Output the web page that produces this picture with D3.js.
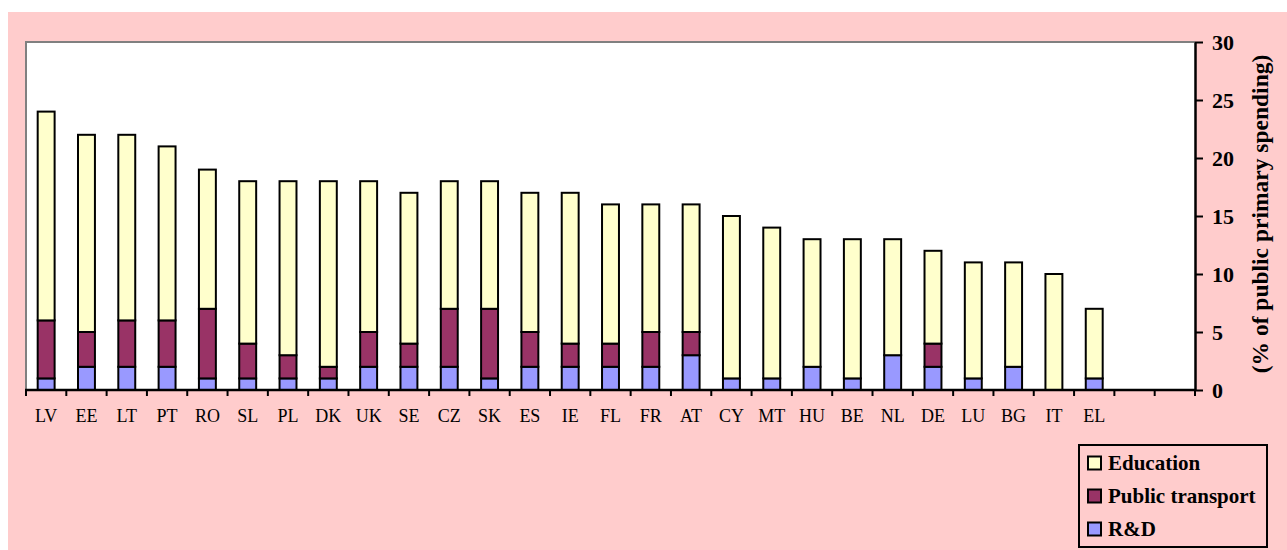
<!DOCTYPE html>
<html>
<head>
<meta charset="utf-8">
<script src="https://cdn.jsdelivr.net/npm/d3@7/dist/d3.min.js"></script>
<style>
  html, body { margin: 0; padding: 0; background: #ffffff; }
  svg { display: block; }
</style>
</head>
<body>
<svg id="chart" width="1287" height="550"></svg>
<script>
// Country codes, in chart order (two empty slots follow on the right)
const countries = ["LV","EE","LT","PT","RO","SL","PL","DK","UK","SE","CZ","SK","ES","IE","FL","FR","AT","CY","MT","HU","BE","NL","DE","LU","BG","IT","EL"];
const emptySlots = ["_1","_2"];

// Shares of public primary spending (%), stacked bottom to top
const rnd       = [1,2,2,2,1,1,1,1,2,2,2,1,2,2,2,2,3,1,1,2,1,3,2,1,2,0,1];
const transport = [5,3,4,4,6,3,2,1,3,2,5,6,3,2,2,3,2,0,0,0,0,0,2,0,0,0,0];
const education = [18,17,16,15,12,14,15,16,13,13,11,11,12,13,12,11,11,14,13,11,12,10,8,10,9,10,6];

const seriesNames  = ["R&D","Public transport","Education"];
const seriesColors = ["#9999ff","#993366","#ffffcc"];
const yTicks = [0,5,10,15,20,25,30];
const yTitle = "(% of public primary spending)";

const FONT = '"Liberation Serif"';
const svg = d3.select("#chart");
const W = 1287, H = 550;
const plot = { left: 26, right: 1195, top: 42, bottom: 390 };

// Pink panel behind everything
svg.append("rect").attr("x", 8).attr("y", 12).attr("width", W - 8).attr("height", H - 12).attr("fill", "#ffcccc");

// White plot area
svg.append("rect")
  .attr("x", plot.left).attr("y", plot.top)
  .attr("width", plot.right - plot.left).attr("height", plot.bottom - plot.top)
  .attr("fill", "#ffffff");

// Grey top and left border of the plot area
svg.append("path")
  .attr("d", `M${plot.left},${plot.bottom}V${plot.top}H${plot.right}`)
  .attr("fill", "none").attr("stroke", "#808080").attr("stroke-width", 2);

const slots = countries.concat(emptySlots);
const pad = 0.58;
const x = d3.scaleBand().domain(slots).range([plot.left, plot.right])
  .paddingInner(pad).paddingOuter(pad / 2);
const y = d3.scaleLinear().domain([0, 30]).range([plot.bottom, plot.top]);

const rows = countries.map((c, i) => ({ country: c, "R&D": rnd[i], "Public transport": transport[i], "Education": education[i] }));
const stacked = d3.stack().keys(seriesNames)(rows);

const layers = svg.append("g").selectAll("g").data(stacked).join("g")
  .attr("fill", (d, i) => seriesColors[i]);

layers.selectAll("rect")
  .data(d => d.filter(s => s[1] - s[0] > 0))
  .join("rect")
  .attr("x", d => x(d.data.country))
  .attr("width", x.bandwidth())
  .attr("y", d => y(d[1]))
  .attr("height", d => y(d[0]) - y(d[1]))
  .attr("stroke", "#000").attr("stroke-width", 2);

// Category axis: labels from the band scale, ticks at slot boundaries
const xAxis = svg.append("g")
  .attr("transform", `translate(0,${plot.bottom})`)
  .call(d3.axisBottom(x).tickSize(0).tickPadding(19).tickFormat(d => d.startsWith("_") ? "" : d));
xAxis.select(".domain").remove();
xAxis.selectAll("text")
  .style("font-family", FONT)
  .style("font-size", "18px").attr("fill", "#000");

const step = x.step();
const bounds = d3.range(slots.length + 1).map(i => plot.left + i * step);
svg.append("g").selectAll("line").data(bounds).join("line")
  .attr("x1", d => d).attr("x2", d => d)
  .attr("y1", plot.bottom).attr("y2", plot.bottom + 6)
  .attr("stroke", "#000").attr("stroke-width", 2);
svg.append("line")
  .attr("x1", plot.left - 1).attr("x2", plot.right)
  .attr("y1", plot.bottom).attr("y2", plot.bottom)
  .attr("stroke", "#000").attr("stroke-width", 2.5);

// Value axis on the right
const yAxis = svg.append("g")
  .attr("transform", `translate(${plot.right},0)`)
  .call(d3.axisRight(y).tickValues(yTicks).tickSize(8).tickPadding(9).tickSizeOuter(0));
yAxis.select(".domain").attr("stroke", "#000").attr("stroke-width", 2.5);
yAxis.selectAll(".tick line").attr("stroke", "#000").attr("stroke-width", 2);
yAxis.selectAll("text")
  .style("font-family", FONT)
  .style("font-size", "22px").style("font-weight", "bold").attr("fill", "#000");

svg.append("text")
  .attr("transform", `translate(1268,214) rotate(-90)`)
  .attr("text-anchor", "middle")
  .style("font-family", FONT)
  .style("font-size", "23.5px").style("font-weight", "bold")
  .text(yTitle);

// Legend, top entry first
const legend = svg.append("g");
legend.append("rect")
  .attr("x", 1079).attr("y", 445).attr("width", 188).attr("height", 102)
  .attr("fill", "#ffcccc").attr("stroke", "#000").attr("stroke-width", 2);
const legendItems = seriesNames.map((n, i) => ({ name: n, color: seriesColors[i] })).reverse();
const li = legend.selectAll("g.item").data(legendItems).join("g")
  .attr("class", "item")
  .attr("transform", (d, i) => `translate(1088,${463 + i * 33})`);
li.append("rect")
  .attr("x", 0).attr("y", -6.5).attr("width", 13).attr("height", 13)
  .attr("fill", d => d.color).attr("stroke", "#000").attr("stroke-width", 2);
li.append("text")
  .attr("x", 20).attr("y", 7)
  .style("font-family", FONT)
  .style("font-size", "21px").style("font-weight", "bold")
  .text(d => d.name);
</script>
</body>
</html>
